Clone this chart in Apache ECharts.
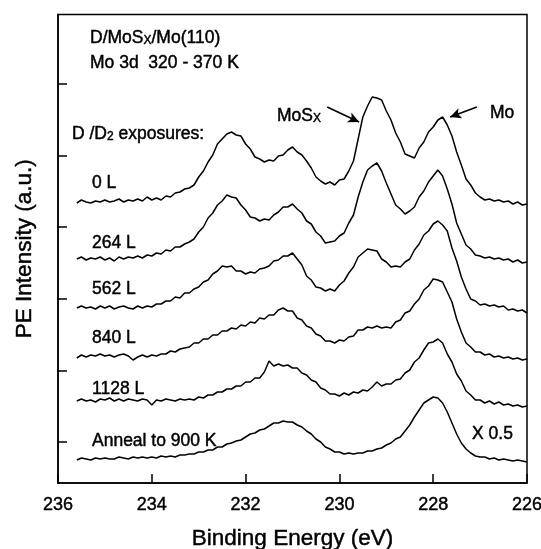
<!DOCTYPE html>
<html>
<head>
<meta charset="utf-8">
<title>D/MoSx/Mo(110) Mo 3d</title>
<script src="https://cdn.jsdelivr.net/npm/echarts@6/dist/echarts.min.js"></script>
<style>
  html, body { margin: 0; padding: 0; background: #fff; }
  #chart { width: 541px; height: 549px; }
</style>
</head>
<body>
<div id="chart"></div>
<script>
// Mo 3d photoemission spectra, sampled every 0.1 eV from 235.6 eV down to 226.0 eV.
// Intensities are in arbitrary units, each spectrum already offset vertically.
const energyStart = 235.6;
const energyStep = 0.1;

const spectrum0L = [280,283,281,280,282,281,283,281,282,284, 281,283,282,284,282,286,283,285,283,287,
  286,290,291,294,295,298,306,312,321,328, 339,344,349,351,348,347,339,334,326,324,
  321,323,322,327,328,333,336,331,328,322, 315,306,302,299,301,298,303,304,312,322,
  344,366,377,386,385,383,372,363,350,341, 329,327,325,335,341,351,356,363,366,358,
  347,331,318,304,298,290,286,283,284,282, 283,281,282,279,281,278,279];

const spectrum264L = [224,226,223,225,224,226,223,225,222,226, 224,226,225,227,225,228,227,230,229,233,
  232,236,236,239,241,244,251,256,265,270, 278,282,288,286,285,278,273,266,265,262,
  264,263,268,271,276,276,279,274,270,262, 259,251,247,240,241,242,247,250,260,268,
  286,301,313,317,320,312,300,289,278,274, 269,272,276,286,292,301,307,313,307,294,
  279,260,249,238,234,228,227,225,226,224, 225,223,224,221,223,220,221];

const spectrum562L = [175,177,175,176,174,177,175,177,174,176, 177,175,174,177,175,177,176,179,179,182,
  182,186,185,190,190,194,196,201,203,209, 212,217,216,217,212,212,209,211,210,214,
  215,217,222,223,227,227,230,224,218,207, 203,196,195,192,194,192,198,202,210,216,
  226,230,234,233,232,224,221,216,217,216, 221,224,233,239,248,252,259,262,258,252,
  235,222,206,194,184,182,178,179,177,178, 176,177,173,174,172,173,170];

const spectrum840L = [125,128,126,128,127,129,127,128,126,128, 129,127,123,126,128,126,128,127,129,129,
  132,131,134,135,136,140,140,144,144,148, 148,152,152,155,154,158,157,161,160,165,
  164,168,168,173,175,172,172,165,163,157, 155,149,147,142,142,140,143,142,146,147,
  153,153,156,155,157,155,156,155,161,163, 170,172,179,184,193,197,204,203,201,191,
  181,164,151,140,136,131,131,128,129,126, 127,125,126,124,125,123,124];

const spectrum1128L = [82,84,82,83,81,84,83,85,82,84, 82,84,83,82,84,83,78,83,82,84,
  83,82,84,83,84,83,86,85,88,88, 91,91,94,94,97,97,101,101,105,105,
  111,122,117,119,117,118,115,115,110,108, 103,101,95,93,89,89,87,90,88,91,
  90,93,92,96,101,97,99,99,103,104, 110,113,121,125,133,140,141,144,140,129,
  121,109,102,92,88,83,83,80,82,79, 81,78,79,77,78,76,77];

// annealed surface, plotted at half scale
const spectrumAnneal = [23,25,24,23,25,24,25,24,24,26, 25,24,26,25,26,25,26,25,27,26,
  27,26,28,28,29,29,31,31,33,33, 36,36,39,40,42,43,46,49,50,53,
  54,57,60,60,62,61,61,58,56,52, 49,44,41,36,34,31,31,29,30,29,
  30,30,32,32,34,35,38,40,44,46, 52,58,66,73,80,83,86,85,80,71,
  60,49,40,34,30,27,26,26,24,25, 23,24,23,22,23,22,21];

const spectra = [spectrum0L, spectrum264L, spectrum562L, spectrum840L, spectrum1128L, spectrumAnneal];
const exposureLabels = ['0 L', '264 L', '562 L', '840 L', '1128 L', 'Anneal to 900 K'];

// x-axis ticks and the positions of the tick marks on the intensity axis
const energyMin = 226, energyMax = 236, energyInterval = 2;
const intensityMin = 0, intensityMax = 468.5;
const intensityTicks = [41, 112.6, 184.2, 255.8, 327.4, 399];

// peak markers: [from, to] in (binding energy, intensity)
const arrowMoSx = [[230.26, 376], [229.58, 361]];
const arrowMo = [[227.07, 376], [227.64, 366]];

const FONT = '"Liberation Sans", Arial, Helvetica, sans-serif';
// a hairline outline gives the lettering a slightly heavier weight
const INK = { textBorderColor: '#000', textBorderWidth: 0.45 };   // axis labels / names
const INK_G = { stroke: '#000', lineWidth: 0.45 };                // graphic text

function toPairs(values) {
  return values.map((v, i) => [+(energyStart - energyStep * i).toFixed(2), v]);
}

const series = spectra.map((vals, k) => ({
  type: 'line',
  name: exposureLabels[k],
  data: toPairs(vals),
  showSymbol: false,
  symbol: 'none',
  smooth: false,
  lineStyle: { color: '#000', width: 1.5 },
  z: 3,
  animation: false
}));

series[0].markLine = {
  silent: true,
  animation: false,
  symbol: ['none', 'arrow'],
  symbolSize: [8, 11],
  label: { show: false },
  lineStyle: { color: '#000', width: 1.6, type: 'solid' },
  data: [
    [{ coord: arrowMoSx[0] }, { coord: arrowMoSx[1] }],
    [{ coord: arrowMo[0] }, { coord: arrowMo[1] }]
  ]
};

const baseText = Object.assign({ fill: '#000', fontFamily: FONT, fontSize: 17.5, verticalAlign: 'middle', align: 'left' }, INK_G);
const richSub = {
  n: Object.assign({ fontFamily: FONT, fontSize: 17.5, lineHeight: 24, verticalAlign: 'bottom', fill: '#000' }, INK_G),
  s: Object.assign({ fontFamily: FONT, fontSize: 12, lineHeight: 11, verticalAlign: 'bottom', fill: '#000' }, INK_G)
};

function label(x, y, text) {
  return { type: 'text', x, y, z: 10, style: Object.assign({}, baseText, { text }) };
}
function richLabel(x, y, text) {
  return { type: 'text', x, y, z: 10, style: Object.assign({}, baseText, { text, rich: richSub }) };
}

const labelY = [183, 243, 289, 338, 389, 441];

const graphics = [
  richLabel(90, 35, '{n|D/MoS}{s|X}{n|/Mo(110)}'),
  label(90, 63, 'Mo 3d  320 - 370 K'),
  richLabel(72, 131, '{n|D /D}{s|2}{n| exposures:}'),
  richLabel(277, 113, '{n|MoS}{s|X}'),
  label(490, 113, 'Mo'),
  label(472, 434, 'X 0.5')
].concat(exposureLabels.map((t, k) => label(92, labelY[k], t)));

const chart = echarts.init(document.getElementById('chart'), null, { renderer: 'canvas' });
chart.setOption({
  animation: false,
  backgroundColor: '#fff',
  grid: {
    left: 58, right: 14, top: 14.5, bottom: 66,
    show: true, borderColor: '#000', borderWidth: 1.5,
    containLabel: false, outerBoundsMode: 'none'
  },
  xAxis: {
    type: 'value',
    inverse: true,
    min: energyMin, max: energyMax, interval: energyInterval,
    name: 'Binding Energy (eV)',
    nameLocation: 'middle',
    nameGap: 44,
    nameTextStyle: Object.assign({ color: '#000', fontFamily: FONT, fontSize: 22.5 }, INK),
    axisLine: { lineStyle: { color: '#000', width: 1.5 } },
    axisTick: { inside: true, length: 9, lineStyle: { color: '#000', width: 1.5 } },
    axisLabel: Object.assign({ color: '#000', fontFamily: FONT, fontSize: 18, margin: 13 }, INK),
    splitLine: { show: false }
  },
  yAxis: {
    type: 'value',
    min: intensityMin, max: intensityMax,
    name: 'PE Intensity (a.u.)',
    nameLocation: 'middle',
    nameGap: 22,
    nameTextStyle: Object.assign({ color: '#000', fontFamily: FONT, fontSize: 22.5 }, INK),
    axisLine: { show: true, lineStyle: { color: '#000', width: 1.5 } },
    axisTick: { show: true, inside: true, length: 9, customValues: intensityTicks, lineStyle: { color: '#000', width: 1.5 } },
    axisLabel: { show: false },
    splitLine: { show: false }
  },
  graphic: graphics,
  series
});
</script>
</body>
</html>
